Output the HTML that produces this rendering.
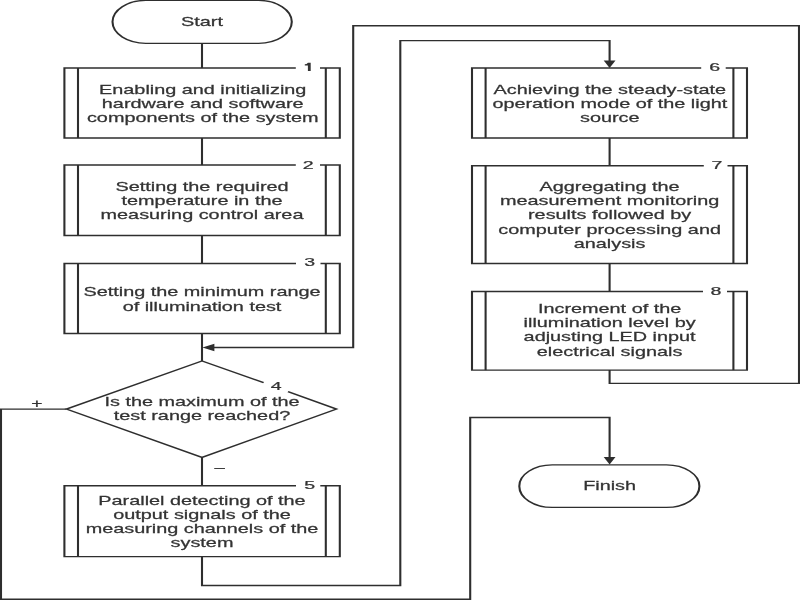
<!DOCTYPE html>
<html><head><meta charset="utf-8"><title>Flowchart</title>
<style>
html,body{margin:0;padding:0;background:#fff;}
body{width:800px;height:600px;overflow:hidden;font-family:"Liberation Sans",sans-serif;}
svg{display:block;will-change:transform;filter:blur(0.45px);}
svg path, svg rect{fill:none;stroke:#2e2e2e;stroke-width:1.35;stroke-linejoin:miter;stroke-linecap:butt;}
svg path.f{fill:#2e2e2e;stroke:none;}
svg path.g{fill:#333333;stroke:none;}
svg text{font-family:"Liberation Sans",sans-serif;fill:#333333;stroke:#333333;stroke-width:0.25;}
</style></head>
<body>
<svg width="800" height="600" viewBox="0 0 800 600">
<g transform="scale(1.55 1)">
<rect x="72.581" y="0.4" width="115.677" height="42.9" rx="21.45" ry="21.45"/>
<text transform="translate(130.323 26.0) scale(1.0005 1)" text-anchor="middle" font-size="12.8">Start</text>
<path d="M130.323 43.3L130.323 68"/>
<path d="M190.839 68L41.548 68L41.548 138L219.226 138L219.226 68L206.452 68"/>
<path d="M50.323 68L50.323 138"/>
<path d="M210.194 68L210.194 138"/>
<path class="g" d="M198.645 62.8L200.452 62.8L200.452 71.0L198.645 71.0L198.645 65.5L196.645 65.5L196.645 64.2L197.806 64.0Z"/>
<text transform="translate(130.774 94.0) scale(1.0005 1)" text-anchor="middle" font-size="12.8">Enabling and initializing</text>
<text transform="translate(130.774 107.8) scale(1.0005 1)" text-anchor="middle" font-size="12.8">hardware and software</text>
<text transform="translate(130.774 121.6) scale(1.0005 1)" text-anchor="middle" font-size="12.8">components of the system</text>
<path d="M130.323 138L130.323 165"/>
<path d="M190.839 165L41.548 165L41.548 235.5L219.226 235.5L219.226 165L206.452 165"/>
<path d="M50.323 165L50.323 235.5"/>
<path d="M210.194 165L210.194 235.5"/>
<text transform="translate(198.903 168.5) scale(1.071 1)" text-anchor="middle" font-size="11.8">2</text>
<text transform="translate(130.323 191.0) scale(1.0005 1)" text-anchor="middle" font-size="12.8">Setting the required</text>
<text transform="translate(130.323 204.9) scale(1.0005 1)" text-anchor="middle" font-size="12.8">temperature in the</text>
<text transform="translate(130.323 218.8) scale(1.0005 1)" text-anchor="middle" font-size="12.8">measuring control area</text>
<path d="M130.323 235.5L130.323 263.5"/>
<path d="M190.968 263.5L41.548 263.5L41.548 333.5L219.226 333.5L219.226 263.5L206.774 263.5"/>
<path d="M50.323 263.5L50.323 333.5"/>
<path d="M210.194 263.5L210.194 333.5"/>
<text transform="translate(199.871 265.8) scale(1.071 1)" text-anchor="middle" font-size="11.8">3</text>
<text transform="translate(130.323 296.3) scale(1.0005 1)" text-anchor="middle" font-size="12.8">Setting the minimum range</text>
<text transform="translate(130.323 310.5) scale(1.0005 1)" text-anchor="middle" font-size="12.8">of illumination test</text>
<path d="M130.323 333.5L130.323 361.0"/>
<path d="M393.29 370.1L393.29 383.3L515.484 383.3L515.484 25.7L227.871 25.7L227.871 347.5L135.484 347.5"/>
<path class="f" d="M130.581 347.5L138.323 343.8L138.323 351.2Z"/>
<path d="M170.065 382.6L130.323 361.0L42.839 409.1L130.323 457.4L217.097 409.1L185.806 391.7"/>
<text transform="translate(178.129 389.5) scale(1.071 1)" text-anchor="middle" font-size="11.8">4</text>
<text transform="translate(130.323 406.4) scale(1.0005 1)" text-anchor="middle" font-size="12.8">Is the maximum of the</text>
<text transform="translate(130.323 420.2) scale(1.0005 1)" text-anchor="middle" font-size="12.8">test range reached?</text>
<text transform="translate(23.742 407.6) scale(1.0323 1)" text-anchor="middle" font-size="12">+</text>
<text transform="translate(141.742 471.5) scale(1.0 1)" text-anchor="middle" font-size="12">–</text>
<path d="M42.839 409.1L0.645 409.1L0.645 599.2L303.355 599.2L303.355 417.5L393.29 417.5L393.29 458"/>
<path class="f" d="M393.29 464.4L389.484 457.0L397.097 457.0Z"/>
<path d="M130.323 457.4L130.323 485.7"/>
<path d="M190.968 485.7L41.548 485.7L41.548 556.6L219.226 556.6L219.226 485.7L206.645 485.7"/>
<path d="M50.323 485.7L50.323 556.6"/>
<path d="M210.194 485.7L210.194 556.6"/>
<text transform="translate(199.742 489.09999999999997) scale(1.071 1)" text-anchor="middle" font-size="11.8">5</text>
<text transform="translate(130.323 505.0) scale(1.0005 1)" text-anchor="middle" font-size="12.8">Parallel detecting of the</text>
<text transform="translate(130.323 519.05) scale(1.0005 1)" text-anchor="middle" font-size="12.8">output signals of the</text>
<text transform="translate(130.323 533.1) scale(1.0005 1)" text-anchor="middle" font-size="12.8">measuring channels of the</text>
<text transform="translate(130.323 547.15) scale(1.0005 1)" text-anchor="middle" font-size="12.8">system</text>
<path d="M130.323 556.6L130.323 585.5L258.258 585.5L258.258 40.6L393.29 40.6L393.29 61"/>
<path class="f" d="M393.29 68L389.484 60.6L397.097 60.6Z"/>
<path d="M452.387 68L304.516 68L304.516 138L481.935 138L481.935 68L468.194 68"/>
<path d="M313.29 68L313.29 138"/>
<path d="M473.161 68L473.161 138"/>
<text transform="translate(461.161 71.1) scale(1.071 1)" text-anchor="middle" font-size="11.8">6</text>
<text transform="translate(393.419 93.8) scale(1.0005 1)" text-anchor="middle" font-size="12.8">Achieving the steady-state</text>
<text transform="translate(393.419 107.8) scale(1.0005 1)" text-anchor="middle" font-size="12.8">operation mode of the light</text>
<text transform="translate(393.419 121.8) scale(1.0005 1)" text-anchor="middle" font-size="12.8">source</text>
<path d="M393.29 138L393.29 165.7"/>
<path d="M454.065 165.7L304.516 165.7L304.516 263.5L481.935 263.5L481.935 165.7L469.355 165.7"/>
<path d="M313.29 165.7L313.29 263.5"/>
<path d="M473.161 165.7L473.161 263.5"/>
<text transform="translate(462.581 169.0) scale(1.071 1)" text-anchor="middle" font-size="11.8">7</text>
<text transform="translate(393.29 190.8) scale(1.0005 1)" text-anchor="middle" font-size="12.8">Aggregating the</text>
<text transform="translate(393.29 205.1) scale(1.0005 1)" text-anchor="middle" font-size="12.8">measurement monitoring</text>
<text transform="translate(393.29 219.4) scale(1.0005 1)" text-anchor="middle" font-size="12.8">results followed by</text>
<text transform="translate(393.29 233.7) scale(1.0005 1)" text-anchor="middle" font-size="12.8">computer processing and</text>
<text transform="translate(393.29 248.0) scale(1.0005 1)" text-anchor="middle" font-size="12.8">analysis</text>
<path d="M393.29 263.5L393.29 291.5"/>
<path d="M453.548 291.5L304.516 291.5L304.516 370.1L481.935 370.1L481.935 291.5L469.032 291.5"/>
<path d="M313.29 291.5L313.29 370.1"/>
<path d="M473.161 291.5L473.161 370.1"/>
<text transform="translate(461.935 294.9) scale(1.071 1)" text-anchor="middle" font-size="11.8">8</text>
<text transform="translate(393.29 312.8) scale(1.0005 1)" text-anchor="middle" font-size="12.8">Increment of the</text>
<text transform="translate(393.29 327.05) scale(1.0005 1)" text-anchor="middle" font-size="12.8">illumination level by</text>
<text transform="translate(393.29 341.3) scale(1.0005 1)" text-anchor="middle" font-size="12.8">adjusting LED input</text>
<text transform="translate(393.29 355.55) scale(1.0005 1)" text-anchor="middle" font-size="12.8">electrical signals</text>
<rect x="335.032" y="464.9" width="116.194" height="42.5" rx="21.25" ry="21.25"/>
<text transform="translate(393.29 489.5) scale(1.0005 1)" text-anchor="middle" font-size="12.8">Finish</text>
</g>
</svg>
</body></html>
